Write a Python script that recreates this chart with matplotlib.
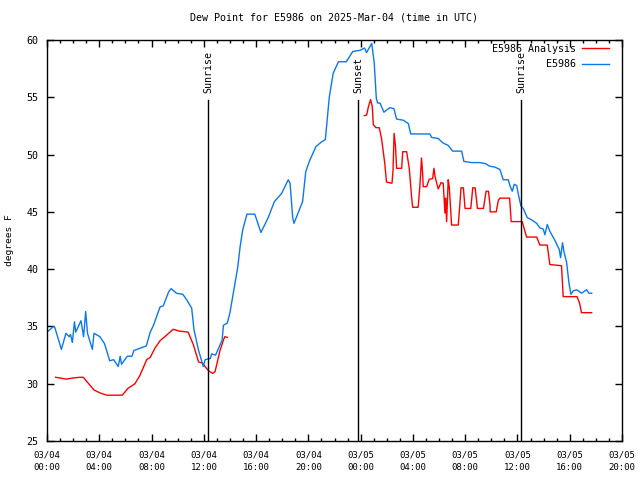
import matplotlib
matplotlib.use("Agg")
import matplotlib.pyplot as plt
import numpy as np

# hours since 2025-03-04 00:00 UTC
blue_t = [0.1, 0.5, 0.6, 1.1, 1.45, 1.7, 1.8, 1.94, 2.1, 2.2, 2.6, 2.8, 2.96, 3.1, 3.47, 3.6,
          4.05, 4.4, 4.8, 5.1, 5.45, 5.6, 5.7, 6.15, 6.5, 6.65, 7.6, 7.9, 8.15, 8.65, 8.9, 9.3,
          9.5, 9.9, 10.4, 10.7, 11.07, 11.25, 11.6, 11.96, 12.1, 12.5, 12.6, 12.9, 13.4, 13.5,
          13.8, 14.0, 14.33, 14.6, 14.77, 14.97, 15.3, 15.9, 16.37, 16.93, 17.4, 17.95, 18.46,
          18.6, 18.8, 18.9, 19.56, 19.8, 20.07, 20.58, 21.0, 21.3, 21.6, 21.9, 22.3, 22.9, 23.4,
          23.95, 24.3, 24.45, 24.85, 25.04, 25.2, 25.3, 25.48, 25.78, 26.24, 26.55, 26.75,
          27.26, 27.65, 27.83, 29.3, 29.43, 29.94, 30.32, 30.7, 31.04, 31.73, 31.9, 32.5, 33.13,
          33.59, 33.84, 34.28, 34.66, 34.91, 35.3, 35.42, 35.6, 35.75, 35.94, 36.11, 36.27,
          36.44, 36.75, 37.08, 37.47, 37.72, 37.97, 38.1, 38.28, 38.48, 38.87, 39.2, 39.3,
          39.45, 39.56, 39.76, 39.94, 40.09, 40.27, 40.53, 40.91, 41.29, 41.47, 41.68]
blue_v = [34.6, 35.0, 34.9, 33.0, 34.4, 34.1, 34.3, 33.6, 35.4, 34.5, 35.5, 34.1, 36.3, 34.4, 33.0, 34.4,
          34.1, 33.5, 32.0, 32.1, 31.5, 32.4, 31.7, 32.4, 32.4, 32.9, 33.3, 34.5, 35.1, 36.7, 36.8, 38.0,
          38.3, 37.9, 37.8, 37.3, 36.6, 34.7, 32.9, 31.5, 32.1, 32.2, 32.6, 32.5, 33.8, 35.1,
          35.3, 36.2, 38.4, 40.2, 41.9, 43.4, 44.8, 44.8, 43.2, 44.5, 45.9, 46.6, 47.8,
          47.5, 44.5, 44.0, 45.9, 48.5, 49.4, 50.7, 51.1, 51.3, 55.0, 57.1, 58.1, 58.1, 59.0,
          59.1, 59.3, 58.9, 59.7, 58.0, 54.9, 54.5, 54.5, 53.7, 54.1, 54.0, 53.1,
          53.0, 52.7, 51.8, 51.8, 51.5, 51.4, 51.0, 50.8, 50.3, 50.3, 49.4, 49.3, 49.3,
          49.2, 49.0, 48.9, 48.7, 47.8, 47.8, 47.3, 46.8, 47.4, 47.3, 46.3, 45.5,
          45.3, 44.5, 44.3, 44.0, 43.6, 43.5, 43.0, 43.9, 43.3, 42.5, 41.7, 41.0,
          42.3, 41.5, 40.6, 38.8, 37.8, 38.1, 38.2, 37.9, 38.2, 37.9, 37.9]

red_t = [0.66, 1.0, 1.45, 2.0, 2.5, 2.78, 3.04, 3.6, 4.05, 4.57, 5.76, 6.2, 6.73, 7.1, 7.63, 7.9,
         8.26, 8.65, 9.16, 9.66, 10.1, 10.8, 11.2, 11.6, 11.9, 12.2, 12.4, 12.68, 12.86, 13.24,
         13.5, 13.6, 13.8,
         14.0,
         24.28, 24.46, 24.6, 24.76, 24.89, 24.97, 25.17, 25.42, 25.6, 25.85, 25.98, 26.4, 26.48,
         26.56, 26.67, 26.75, 27.14, 27.22, 27.52, 27.72, 27.9, 27.98, 28.4, 28.53, 28.66, 28.74,
         28.79, 29.05, 29.25, 29.51, 29.61, 29.69, 29.82, 29.94, 30.15, 30.32, 30.45, 30.5, 30.58,
         30.7, 30.78, 30.96, 31.47, 31.6, 31.68, 31.86, 31.99, 32.43, 32.58, 32.76, 32.94, 33.4,
         33.6, 33.78, 33.9, 33.91, 34.37, 34.54, 34.66, 35.4, 35.52, 36.36, 36.55, 36.7, 37.47,
         37.72, 38.28, 38.48, 39.37, 39.5, 40.56, 40.76, 40.9, 41.68]
red_v = [30.56, 30.5, 30.4, 30.5, 30.56, 30.56, 30.2, 29.45, 29.2, 29.0, 29.0, 29.6, 30.0, 30.7, 32.1, 32.3,
         33.1, 33.75, 34.25, 34.75, 34.6, 34.5, 33.4, 31.9, 31.8, 31.35, 31.1, 30.9, 31.05, 32.9,
         33.8, 34.1, 34.05,
         np.nan,
         53.4, 53.45, 54.2, 54.8, 54.2, 52.6, 52.35, 52.35, 51.4, 49.2, 47.6, 47.5, 48.65,
         51.85, 50.7, 48.8, 48.8, 50.25, 50.25, 48.8, 46.3, 45.4, 45.4, 47.2, 49.7, 48.4,
         47.2, 47.2, 47.85, 47.9, 48.8, 48.1, 47.5, 47.0, 47.55, 47.5, 44.9, 46.2, 44.15,
         47.8, 47.2, 43.85, 43.85, 45.75, 47.1, 47.1, 45.3, 45.3, 47.1, 47.1, 45.3, 45.3,
         46.8, 46.8, 45.6, 45.0, 45.0, 46.0, 46.2, 46.2, 44.15, 44.15, 43.4, 42.8, 42.8,
         42.1, 42.1, 40.4, 40.3, 37.6, 37.6, 37.0, 36.2, 36.2]

sun_t = [12.32, 23.8, 36.27]
sun_labels = ["Sunrise", "Sunset", "Sunrise"]

xtick_pos = list(range(0, 45, 4))
xtick_labels = ["03/04\n00:00", "03/04\n04:00", "03/04\n08:00", "03/04\n12:00", "03/04\n16:00",
                "03/04\n20:00", "03/05\n00:00", "03/05\n04:00", "03/05\n08:00", "03/05\n12:00",
                "03/05\n16:00", "03/05\n20:00"]
ytick_pos = [25, 30, 35, 40, 45, 50, 55, 60]

plt.rcParams['font.family'] = 'DejaVu Sans Mono'
plt.rcParams['font.size'] = 7.2

fig = plt.figure(figsize=(6.4, 4.8), dpi=100)
ax = fig.add_axes([47 / 640, 1 - 441 / 480, 575 / 640, 401 / 480])

ax.plot(red_t, red_v, color='#ff0000', lw=1.0, label='E5986 Analysis')
ax.plot(blue_t, blue_v, color='#0a78ee', lw=1.0, label='E5986')

for t, lab in zip(sun_t, sun_labels):
    ax.plot([t, t], [25, 54.8], color='black', lw=1.0)
    ax.text(t, 55.4, lab, rotation=90, ha='center', va='bottom', fontsize=7.2)

ax.set_xlim(0, 44)
ax.set_ylim(25, 60)
ax.set_xticks(xtick_pos)
ax.set_xticklabels(xtick_labels, fontsize=6.5, linespacing=1.5)
ax.set_xticks(range(0, 45), minor=True)
ax.set_yticks(ytick_pos)
ax.tick_params(axis='y', labelsize=7.2)
ax.tick_params(which='both', direction='in', top=True, right=True, width=1.0)
ax.tick_params(which='major', length=5)
ax.tick_params(which='minor', length=2.5)
ax.tick_params(axis='x', which='major', pad=7)
ax.tick_params(axis='y', which='major', pad=6)
for s in ax.spines.values():
    s.set_linewidth(1.0)

ax.set_title("Dew Point for E5986 on 2025-Mar-04 (time in UTC)", fontsize=7.2, pad=14)
ax.set_ylabel("degrees F", fontsize=6.8, labelpad=9)

ax.legend(loc='upper right', bbox_to_anchor=(0.984, 1.0), frameon=False, markerfirst=False,
          alignment='right', fontsize=7.2, handlelength=2.7, handletextpad=0.6,
          borderaxespad=0.0, labelspacing=0.55)

fig.savefig("out.png", dpi=100)
